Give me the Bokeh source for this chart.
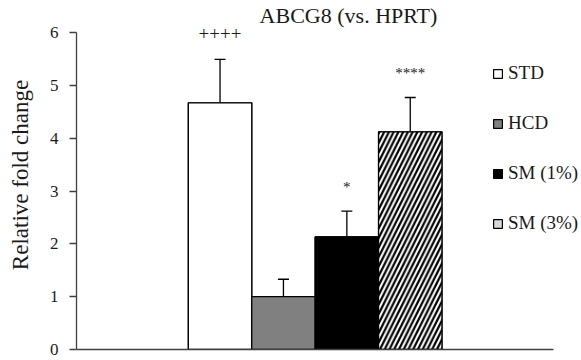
from bokeh.plotting import figure
from bokeh.models import (ColumnDataSource, Range1d, Whisker, TeeHead, FixedTicker,
                          LabelSet, Label, Legend, LegendItem)
from bokeh.embed import file_html
from bokeh.resources import INLINE

# ---- data ----
groups = ["STD", "HCD", "SM (1%)", "SM (3%)"]
values = [4.67, 1.00, 2.13, 4.12]
errors = [0.82, 0.33, 0.49, 0.65]
marks = ["++++", "", "*", "****"]
title_text = "ABCG8 (vs. HPRT)"
y_label = "Relative fold change"
y_ticks = [0, 1, 2, 3, 4, 5, 6]

# ---- styles ----
bar_fills = ["white", "#808080", "black", "white"]
bar_hatches = [" ", " ", " ", "/"]
legend_fills = ["white", "#808080", "black", "#d9d9d9"]
mark_sizes = ["19px", "15px", "15px", "15px"]
FONT = "Liberation Serif"
TXT = "#1a1a1a"
AX = "#404040"

src = ColumnDataSource(dict(
    x=list(range(len(groups))), g=groups, v=values,
    upper=[v + e for v, e in zip(values, errors)],
    lower=[v - e for v, e in zip(values, errors)],
    mark=marks, msize=mark_sizes, fill=bar_fills, hatch=bar_hatches, lfill=legend_fills,
))

p = figure(width=581, height=360, output_backend="svg", toolbar_location=None,
           x_range=Range1d(-2.264, 5.701), y_range=Range1d(0, 6.606),
           min_border_left=76, min_border_right=0, min_border_top=0, min_border_bottom=11)
p.outline_line_color = None
p.grid.visible = False
p.background_fill_color = "white"

# legend proxies (fully hidden beneath the real bars)
proxy = p.vbar(x="x", top="v", width=1.0, source=src, fill_color="lfill",
               line_color="black", line_width=1.2)

p.vbar(x="x", top="v", width=1.0, source=src, fill_color="fill", line_color="black",
       line_width=1.3, hatch_pattern="hatch", hatch_color="black", hatch_weight=2.2,
       hatch_scale=9.5)

p.add_layout(Whisker(base="x", upper="upper", lower="lower", source=src,
                     line_color="black", line_width=1.3,
                     upper_head=TeeHead(size=11, line_color="black", line_width=1.3),
                     lower_head=TeeHead(size=11, line_color="black", line_width=1.3)))

p.add_layout(LabelSet(x="x", y="upper", text="mark", source=src, y_offset=19,
                      text_align="center", text_baseline="alphabetic",
                      text_font=FONT, text_font_size={"field": "msize"}, text_color=TXT))

xax = p.xaxis[0]
xax.bounds = (-2.264, 5.26)
xax.ticker = FixedTicker(ticks=[])
xax.axis_line_color = AX
xax.axis_line_width = 1.3
xax.major_tick_line_color = None
xax.minor_tick_line_color = None
xax.major_label_text_font_size = "0px"
xax.major_label_standoff = 0

yax = p.yaxis[0]
yax.bounds = (0, 6)
yax.ticker = FixedTicker(ticks=y_ticks)
yax.axis_line_color = AX
yax.axis_line_width = 1.3
yax.major_tick_line_color = AX
yax.major_tick_line_width = 1.3
yax.major_tick_out = 7
yax.major_tick_in = 0
yax.minor_tick_line_color = None
yax.major_label_text_font = FONT
yax.major_label_text_font_size = "17px"
yax.major_label_text_color = TXT
yax.major_label_standoff = 11
yax.axis_label = y_label
yax.axis_label_text_font = FONT
yax.axis_label_text_font_size = "23px"
yax.axis_label_text_font_style = "normal"
yax.axis_label_text_color = TXT
yax.axis_label_standoff = 14

p.add_layout(Label(x=272, y=334, x_units="screen", y_units="screen", text=title_text,
                   text_align="center", text_baseline="middle", text_font=FONT,
                   text_font_size="22px", text_color=TXT))

items = [LegendItem(label=g, renderers=[proxy], index=i) for i, g in enumerate(groups)]
leg = Legend(items=items, location=(416, 115), glyph_width=11, glyph_height=11,
             label_height=20, spacing=28, padding=0, margin=0, label_standoff=5,
             border_line_color=None, background_fill_alpha=0,
             label_text_font=FONT, label_text_font_size="19px", label_text_color=TXT)
p.add_layout(leg)

open("out.html", "w").write(file_html(p, INLINE))
